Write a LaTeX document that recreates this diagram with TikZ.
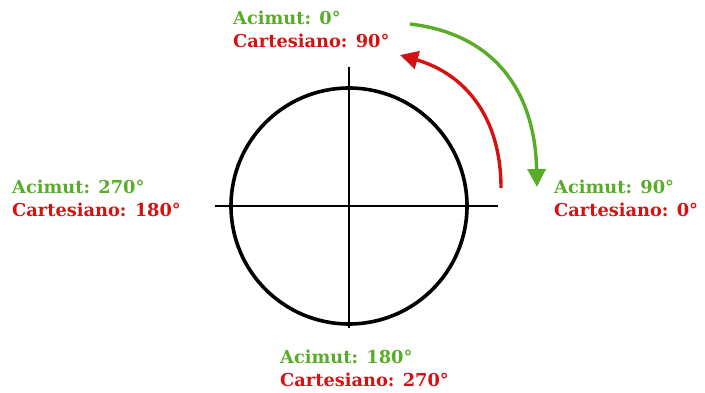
\documentclass[tikz,border=0pt]{standalone}
\usepackage{fontspec}
\setmainfont{DejaVu Serif}
\usetikzlibrary{arrows.meta}
\definecolor{acgreen}{RGB}{88,172,40}
\definecolor{cared}{RGB}{212,18,18}
\newcommand{\pair}[2]{\textcolor{acgreen}{Acimut: #1°}\\\textcolor{cared}{Cartesiano: #2°}}

\begin{document}
\begin{tikzpicture}[x=1pt,y=1pt,
 lbl/.style={anchor=west,align=left,inner sep=0pt,font=\bfseries\fontsize{17.8}{23}\selectfont},
 arr/.style={-{Triangle[length=18pt,width=18pt]},line width=3.4pt}]
\useasboundingbox (0,0) rectangle (705,392);
\node[circle,draw,line width=3.6pt,minimum size=236pt,inner sep=0pt] (dial) at (349,186) {};
\coordinate (n) at (349,325);
\coordinate (s) at (349,64);
\coordinate (w) at (215,186);
\coordinate (e) at (498,186);
\draw[line width=2.3pt] (n) -- (s);
\draw[line width=2.3pt] (w) -- (e);
% labels
\node[lbl] (top) at (233,363) {\pair{0}{90}};
\node[lbl] (left) at (12,194) {\pair{270}{180}};
\node[lbl] (right) at (554,194) {\pair{90}{0}};
\node[lbl] (bottom) at (280,24) {\pair{180}{270}};
% arrows
\coordinate (redstart) at (501,204);
\coordinate (redend) at (400,337);
\coordinate (greenstart) at (410,368);
\coordinate (greenend) at (537,205);
\draw[arr,cared] (redstart) .. controls (501,275) and (465,318) .. (redend);
\draw[arr,acgreen] (greenstart) .. controls (495,358) and (535,300) .. (greenend);
\end{tikzpicture}
\end{document}
